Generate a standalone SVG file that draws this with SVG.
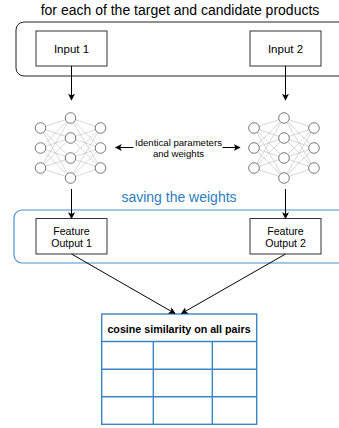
<svg xmlns="http://www.w3.org/2000/svg" xmlns:xlink="http://www.w3.org/1999/xlink" width="339" height="428" viewBox="0 0 339 428">
<style>
text{font-family:"Liberation Sans",Arial,sans-serif;fill:#000}
.box{fill:#fff;stroke:#333;stroke-width:1}
.edge{fill:none;stroke:#000;stroke-width:1}
.nl{stroke:#bdbdbd;stroke-width:0.6}
.nc{fill:#fff;stroke:#6a6a6a;stroke-width:0.9}
.blue{stroke:#4a90cc;fill:none;stroke-width:1.2}
.tl{stroke:#3d86c6;stroke-width:1.4;fill:none}
</style>
<defs>
<marker id="ah" viewBox="0 0 10 10" refX="9" refY="5" markerWidth="7" markerHeight="7" orient="auto" markerUnits="userSpaceOnUse">
<path d="M0,0 L10,5 L0,10 L2.5,5 Z" fill="#000"/>
</marker>
<g id="nn">
<g class="nl">
<path d="M0,10 L30,0 M0,10 L30,20 M0,10 L30,40 M0,10 L30,60 M0,30 L30,0 M0,30 L30,20 M0,30 L30,40 M0,30 L30,60 M0,50 L30,0 M0,50 L30,20 M0,50 L30,40 M0,50 L30,60"/>
<path d="M60,10 L30,0 M60,10 L30,20 M60,10 L30,40 M60,10 L30,60 M60,30 L30,0 M60,30 L30,20 M60,30 L30,40 M60,30 L30,60 M60,50 L30,0 M60,50 L30,20 M60,50 L30,40 M60,50 L30,60"/>
</g>
<g class="nc">
<circle cx="0" cy="10" r="5.3"/><circle cx="0" cy="30" r="5.3"/><circle cx="0" cy="50" r="5.3"/>
<circle cx="30" cy="0" r="5.3"/><circle cx="30" cy="20" r="5.3"/><circle cx="30" cy="40" r="5.3"/><circle cx="30" cy="60" r="5.3"/>
<circle cx="60" cy="10" r="5.3"/><circle cx="60" cy="30" r="5.3"/><circle cx="60" cy="50" r="5.3"/>
</g>
</g>
</defs>
<rect width="339" height="428" fill="#fff"/>
<text x="180" y="15" font-size="14" text-anchor="middle">for each of the target and candidate products</text>
<g id="container-top"><rect x="16" y="22" width="340" height="54" rx="8" fill="none" stroke="#222" stroke-width="1"/></g>
<g id="container-weights">
<rect x="14" y="210" width="340" height="53" rx="8" class="blue"/>
<text x="179" y="201.5" font-size="14" text-anchor="middle" style="fill:#2d7dc0">saving the weights</text>
</g>
<g id="input1"><rect class="box" x="36" y="31" width="71" height="35"/><text x="71.5" y="52.5" font-size="11.5" text-anchor="middle">Input 1</text></g>
<g id="input2"><rect class="box" x="250" y="31" width="71" height="35"/><text x="285.5" y="52.5" font-size="11.5" text-anchor="middle">Input 2</text></g>
<g id="net1"><use xlink:href="#nn" href="#nn" transform="translate(40.5,118)"/></g>
<g id="net2"><use xlink:href="#nn" href="#nn" transform="translate(254,118)"/></g>
<g id="feature1"><rect class="box" x="36" y="218.5" width="71" height="35.5"/><text x="71.5" y="234.5" font-size="10.6" text-anchor="middle">Feature</text><text x="71.5" y="247" font-size="10.6" text-anchor="middle">Output 1</text></g>
<g id="feature2"><rect class="box" x="250" y="218.5" width="71" height="35.5"/><text x="285.5" y="234.5" font-size="10.6" text-anchor="middle">Feature</text><text x="285.5" y="247" font-size="10.6" text-anchor="middle">Output 2</text></g>
<g id="label-identical">
<text x="178.5" y="146" font-size="9.6" text-anchor="middle">Identical parameters</text>
<text x="178.5" y="157.3" font-size="9.6" text-anchor="middle">and weights</text>
</g>
<g id="table">
<rect x="101.7" y="314" width="155" height="110.3" fill="#fff" class="tl"/>
<path class="tl" d="M101.7,341.5 H256.7 M101.7,369.2 H256.7 M101.7,396.8 H256.7 M153.3,341.5 V424.3 M212.3,341.5 V424.3"/>
<text x="179" y="332.5" font-size="10.7" font-weight="bold" text-anchor="middle">cosine similarity on all pairs</text>
</g>
<g id="connectors">
<path class="edge" d="M71.5,66 V100" marker-end="url(#ah)"/>
<path class="edge" d="M285.5,66 V100" marker-end="url(#ah)"/>
<path class="edge" d="M71.5,189 V218.5" marker-end="url(#ah)"/>
<path class="edge" d="M285.5,189 V218.5" marker-end="url(#ah)"/>
<path class="edge" d="M133.5,147.5 H115.5" marker-end="url(#ah)"/>
<path class="edge" d="M222.5,147.5 H240" marker-end="url(#ah)"/>
<path class="edge" d="M71.5,254 L175,313.5" marker-end="url(#ah)"/>
<path class="edge" d="M285.5,254 L181.5,313.5" marker-end="url(#ah)"/>
</g>
</svg>
